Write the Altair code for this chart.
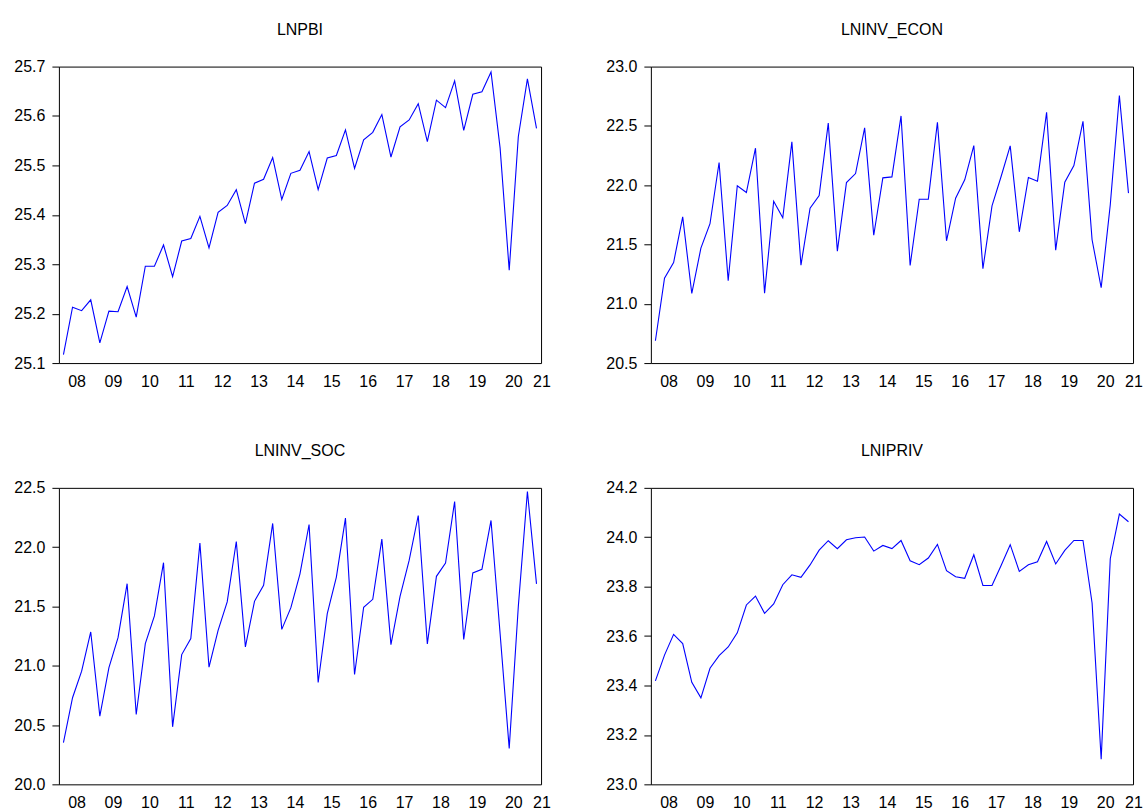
import altair as alt
import pandas as pd

# Quarterly sample 2008Q1 - 2021Q1 (53 observations)
START_YEAR = 2008
N_OBS = 53

year_labels = ["08", "09", "10", "11", "12", "13", "14", "15", "16", "17", "18", "19", "20", "21"]

lnpbi = [
    25.117, 25.213, 25.206, 25.228, 25.141, 25.205, 25.204, 25.255, 25.193, 25.296,
    25.296, 25.339, 25.275, 25.347, 25.352, 25.397, 25.333, 25.405, 25.419, 25.451,
    25.382, 25.464, 25.472, 25.516, 25.431, 25.484, 25.490, 25.528, 25.451, 25.515,
    25.520, 25.572, 25.494, 25.552, 25.567, 25.603, 25.517, 25.578, 25.592, 25.625,
    25.548, 25.632, 25.617, 25.671, 25.571, 25.644, 25.649, 25.689, 25.535, 25.288,
    25.558, 25.675, 25.575,
]

lninv_econ = [
    20.688, 21.216, 21.348, 21.733, 21.087, 21.469, 21.675, 22.191, 21.194, 21.995,
    21.938, 22.312, 21.090, 21.865, 21.725, 22.365, 21.326, 21.806, 21.913, 22.523,
    21.444, 22.022, 22.098, 22.483, 21.578, 22.062, 22.070, 22.584, 21.323, 21.882,
    21.882, 22.531, 21.531, 21.890, 22.045, 22.334, 21.295, 21.826, 22.073, 22.331,
    21.607, 22.065, 22.034, 22.615, 21.452, 22.025, 22.166, 22.539, 21.540, 21.135,
    21.835, 22.756, 21.933,
]

lninv_soc = [
    20.351, 20.730, 20.954, 21.285, 20.575, 20.985, 21.237, 21.692, 20.589, 21.187,
    21.420, 21.869, 20.485, 21.094, 21.229, 22.034, 20.988, 21.299, 21.538, 22.048,
    21.159, 21.543, 21.678, 22.200, 21.307, 21.490, 21.775, 22.191, 20.859, 21.439,
    21.748, 22.245, 20.926, 21.493, 21.560, 22.068, 21.178, 21.585, 21.888, 22.267,
    21.184, 21.754, 21.866, 22.385, 21.221, 21.782, 21.813, 22.225, 21.270, 20.303,
    21.500, 22.469, 21.690,
]

lnipriv = [
    23.419, 23.523, 23.607, 23.570, 23.413, 23.350, 23.470, 23.521, 23.556, 23.613,
    23.726, 23.762, 23.692, 23.730, 23.808, 23.848, 23.838, 23.888, 23.948, 23.986,
    23.954, 23.990, 23.998, 24.001, 23.944, 23.967, 23.954, 23.987, 23.905, 23.889,
    23.916, 23.971, 23.865, 23.840, 23.834, 23.929, 23.805, 23.805, 23.886, 23.970,
    23.862, 23.889, 23.901, 23.983, 23.892, 23.947, 23.987, 23.987, 23.734, 23.102,
    23.913, 24.094, 24.063,
]

# (title, series, axis min, axis max, tick step)
panels = [
    ("LNPBI", lnpbi, 25.1, 25.7, 0.1),
    ("LNINV_ECON", lninv_econ, 20.5, 23.0, 0.5),
    ("LNINV_SOC", lninv_soc, 20.0, 22.5, 0.5),
    ("LNIPRIV", lnipriv, 23.0, 24.2, 0.2),
]

PANEL_W = 483
PANEL_H = 297
FONT = "Liberation Sans"
BLUE = "#0000FF"

# year boundaries (in quarter units) and centred year labels
year_ticks = list(range(0, N_OBS, 4))
label_rows = []
for k, lab in enumerate(year_labels):
    tick = 4 * k
    q = min(4, N_OBS - tick)
    label_rows.append({"pos": tick + max(q / 2, 1.1), "label": lab})
labels_df = pd.DataFrame(label_rows)


def panel(title, values, lo, hi, step):
    df = pd.DataFrame({"t": [i + 0.5 for i in range(len(values))], "v": values})
    n_ticks = int(round((hi - lo) / step)) + 1
    y_ticks = [round(lo + i * step, 2) for i in range(n_ticks)]

    x_scale = alt.Scale(domain=[0, N_OBS], nice=False, zero=False)

    line = alt.Chart(df).mark_line(color=BLUE, strokeWidth=1.1).encode(
        x=alt.X(
            "t:Q",
            scale=x_scale,
            axis=alt.Axis(
                values=year_ticks, labels=False, tickSize=7, grid=False,
                domain=False, title=None, tickColor="black", tickWidth=1,
            ),
        ),
        y=alt.Y(
            "v:Q",
            scale=alt.Scale(domain=[lo, hi], nice=False, zero=False),
            axis=alt.Axis(
                values=y_ticks, format=".1f", tickSize=7, labelPadding=7,
                grid=False, domain=False, title=None, tickColor="black",
                labelFont=FONT, labelFontSize=16, labelColor="black",
            ),
        ),
    )

    years = alt.Chart(labels_df).mark_text(
        font=FONT, fontSize=16, color="black", baseline="middle", align="center"
    ).encode(
        x=alt.X("pos:Q", scale=x_scale, axis=None),
        y=alt.value(PANEL_H + 18.5),
        text="label:N",
    )

    return alt.layer(line, years).properties(
        width=PANEL_W,
        height=PANEL_H,
        title=alt.TitleParams(
            title, fontSize=16, font=FONT, fontWeight="normal",
            color="black", offset=21, anchor="middle",
        ),
    )


chart = alt.concat(
    *[panel(*p) for p in panels],
    columns=2,
    spacing={"row": 125, "column": 110},
    bounds="flush",
).properties(
    padding={"left": 13, "top": 20, "right": 0, "bottom": 0},
    background="white",
).configure_view(
    stroke="black", strokeWidth=1, fill="white"
)

chart.save("out.html", embed_options={"renderer": "svg", "actions": False})
